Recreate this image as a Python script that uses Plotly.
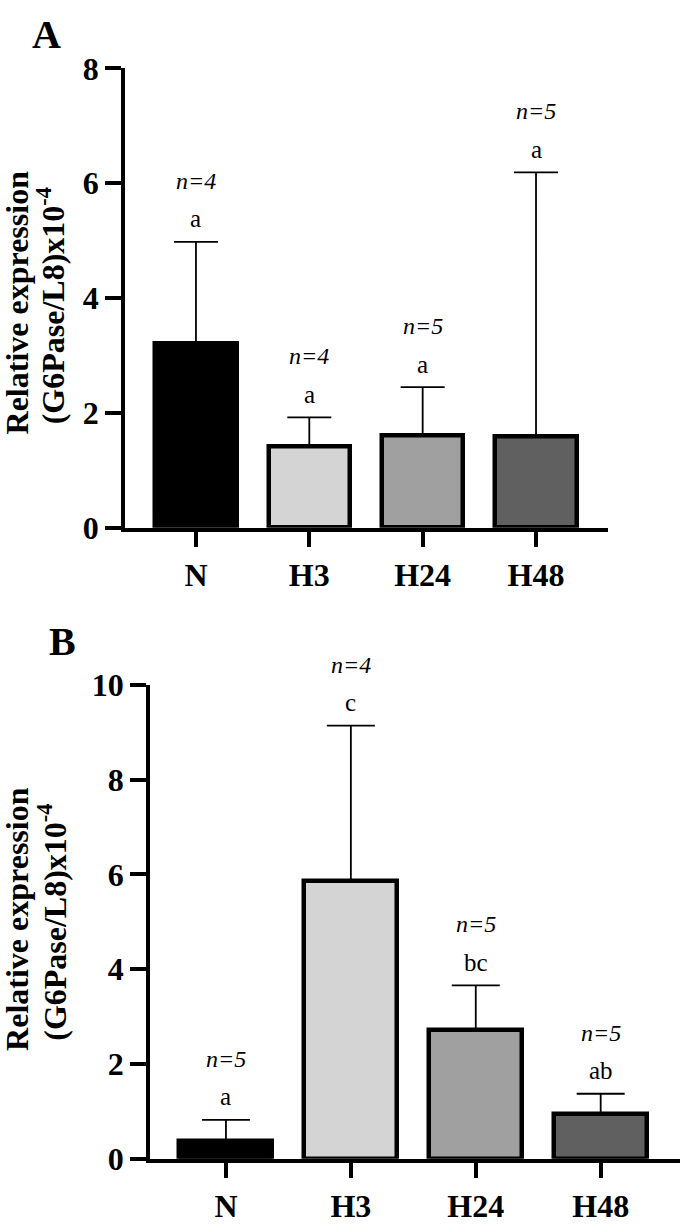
import plotly.graph_objects as go

W, H = 685, 1232

categories = ["N", "H3", "H24", "H48"]
bar_colors = ["#000000", "#d4d4d4", "#a0a0a0", "#606060"]

# Panel A
a_means = [3.21, 1.42, 1.61, 1.59]
a_err = [1.77, 0.50, 0.84, 4.60]
a_letters = ["a", "a", "a", "a"]
a_n = ["n=4", "n=4", "n=5", "n=5"]
a_ticks = [0, 2, 4, 6, 8]

# Panel B
b_means = [0.37, 5.86, 2.71, 0.95]
b_err = [0.45, 3.28, 0.95, 0.42]
b_letters = ["a", "c", "bc", "ab"]
b_n = ["n=5", "n=4", "n=5", "n=5"]
b_ticks = [0, 2, 4, 6, 8, 10]

FONT = "Liberation Serif"

def px_x(p):
    return p / W

def px_y(p):
    return (H - p) / H

fig = go.Figure()

fig.add_trace(go.Bar(
    x=categories, y=a_means, xaxis="x", yaxis="y", width=0.72,
    marker=dict(color=bar_colors, line=dict(color="black", width=4.5)),
    error_y=dict(type="data", symmetric=False, array=a_err,
                 arrayminus=[0] * 4, color="black", thickness=1.8, width=22),
    showlegend=False, hoverinfo="skip"))

fig.add_trace(go.Bar(
    x=categories, y=b_means, xaxis="x2", yaxis="y2", width=0.745,
    marker=dict(color=bar_colors, line=dict(color="black", width=4.5)),
    error_y=dict(type="data", symmetric=False, array=b_err,
                 arrayminus=[0] * 4, color="black", thickness=1.8, width=24),
    showlegend=False, hoverinfo="skip"))

axis_common = dict(showline=True, linecolor="black", linewidth=3.5,
                   ticks="outside", ticklen=16, tickwidth=3.5, tickcolor="black",
                   showgrid=False, zeroline=False,
                   tickfont=dict(family=FONT, size=32, color="black", weight="bold"))

fig.update_layout(
    width=W, height=H,
    margin=dict(l=0, r=0, t=0, b=0),
    paper_bgcolor="white", plot_bgcolor="white",
    bargap=0,
    font=dict(family=FONT, color="black"),
    xaxis=dict(domain=[px_x(125), px_x(608)], range=[-0.626, 3.635],
               anchor="y", type="category", **axis_common),
    yaxis=dict(domain=[px_y(525), px_y(52)], range=[0, 8], anchor="x",
               tickvals=a_ticks, **axis_common),
    xaxis2=dict(domain=[px_x(150), px_x(680)], range=[-0.608, 3.635],
                anchor="y2", type="category", **axis_common),
    yaxis2=dict(domain=[px_y(1175), px_y(687)], range=[0, 10], anchor="x2",
                tickvals=b_ticks, **axis_common),
)

annotations = []
for xr, yr, cats, means, errs, letters, ns in [
        ("x", "y", categories, a_means, a_err, a_letters, a_n),
        ("x2", "y2", categories, b_means, b_err, b_letters, b_n)]:
    for c, m, e, l, n in zip(cats, means, errs, letters, ns):
        top = m + e
        annotations.append(dict(x=c, y=top, xref=xr, yref=yr, text=l,
                                showarrow=False, yanchor="middle", yshift=23,
                                font=dict(family=FONT, size=25, color="black")))
        annotations.append(dict(x=c, y=top, xref=xr, yref=yr,
                                text="<i>" + n + "</i>",
                                showarrow=False, yanchor="middle", yshift=61,
                                font=dict(family=FONT, size=24, color="black")))

title_font = dict(family=FONT, size=32, color="black", weight="bold")
for (x1, x2, yc) in [(17, 51, 293), (17, 52, 928)]:
    annotations.append(dict(x=px_x(x1), y=px_y(yc), xref="paper", yref="paper",
                            text="Relative expression", textangle=-90,
                            showarrow=False, xanchor="center", yanchor="middle",
                            font=title_font))
    annotations.append(dict(x=px_x(x2), y=px_y(yc + 4), xref="paper", yref="paper",
                            text="(G6Pase/L8)x10<sup>-4</sup>", textangle=-90,
                            showarrow=False, xanchor="center", yanchor="middle",
                            font=title_font))

for lab, xc, yc in [("A", 46, 17), ("B", 62, 642)]:
    annotations.append(dict(x=px_x(xc), y=px_y(yc), xref="paper", yref="paper",
                            text=lab, showarrow=False, xanchor="center",
                            yanchor="middle",
                            font=dict(family=FONT, size=40, color="black",
                                      weight="bold")))

fig.update_layout(annotations=annotations)

fig.write_html(
    "out.html",
    config={"displayModeBar": False},
    post_script="document.body.style.margin='0';"
                "document.body.style.padding='0';"
                "document.body.style.overflow='hidden';",
)
